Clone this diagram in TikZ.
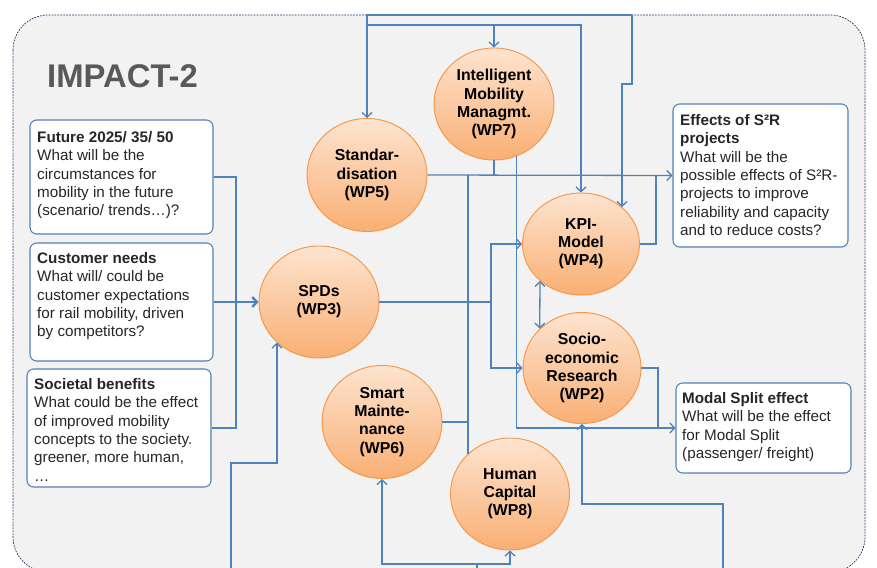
\documentclass[tikz,border=0pt]{standalone}
\usepackage{fontspec}
\setmainfont{Liberation Sans}
\usetikzlibrary{shapes.geometric}
\usetikzlibrary{arrows.meta}
\usetikzlibrary{positioning}
\definecolor{linkblue}{HTML}{4F81BD}
\definecolor{wporange}{HTML}{F79646}
\definecolor{wptop}{HTML}{FDE4D0}
\definecolor{wpbottom}{HTML}{F9AF74}
\definecolor{panelgray}{HTML}{F2F2F2}
\definecolor{panelline}{HTML}{1F3864}
\definecolor{titlegray}{HTML}{595959}
\definecolor{textdark}{HTML}{262626}
\tikzstyle{wp}=[ellipse, draw=wporange, line width=0.8pt, top color=wptop, bottom color=wpbottom, align=center, inner sep=0pt, font=\bfseries\fontsize{13.5}{15.5}\selectfont]
\tikzstyle{question}=[draw=linkblue, line width=0.9pt, fill=white, rounded corners=0.2cm, inner sep=0pt]
\tikzstyle{qtext}=[anchor=north west, align=left, inner sep=0pt, text=textdark, font=\fontsize{13}{15.7}\selectfont]
\tikzstyle{link}=[draw=linkblue, line width=1.1pt, >={Straight Barb[length=4pt,width=8.5pt]}]
\tikzstyle{mainlink}=[link, line width=2pt]

\begin{document}
\begin{tikzpicture}[x=0.03cm, y=-0.03cm]
  \useasboundingbox (0,0) rectangle (877,568);
  \clip (0,0) rectangle (877,568);
  \fill[white] (0,0) rectangle (877,568);
  % panel
  \draw[panelline, line width=0.6pt, dash pattern=on 1.5pt off 1pt, fill=panelgray,
    rounded corners=1.05cm] (13,15) rectangle (865,572);
  \node[anchor=base west, inner sep=0pt, text=titlegray,
    font=\bfseries\fontsize{28}{30}\selectfont] (impact) at (47,88) {IMPACT-2};

  % work packages
  \node[wp, minimum width=3.6cm, minimum height=3.39cm] (wpfive) at (367,175) {Standar-\\disation\\(WP5)};
  \node[wp, minimum width=3.6cm, minimum height=3.36cm] (wpseven) at (494,104) {Intelligent\\Mobility\\Managmt.\\(WP7)};
  \node[wp, minimum width=3.51cm, minimum height=3.06cm] (wpfour) at (581,244) {KPI-\\Model\\(WP4)};
  \node[wp, minimum width=3.6cm, minimum height=3.36cm] (wpthree) at (319,302) {SPDs\\(WP3)};
  \node[wp, minimum width=3.54cm, minimum height=3.33cm] (wptwo) at (582,368) {Socio-\\economic\\Research\\(WP2)};
  \node[wp, minimum width=3.6cm, minimum height=3.39cm] (wpsix) at (382,422) {Smart\\Mainte-\\nance\\(WP6)};
  \node[wp, minimum width=3.57cm, minimum height=3.36cm] (wpeight) at (510,494) {Human\\Capital\\(WP8)};

  % questions
  \node[question, minimum width=5.49cm, minimum height=3.42cm] (future) at (121.5,177) {};
  \node[qtext] (futuretext) at (37,131) {\textbf{Future 2025/ 35/ 50}\\What will be the\\circumstances for\\mobility in the future\\(scenario/ trends…)?};
  \node[question, minimum width=5.49cm, minimum height=3.54cm] (customer) at (121.5,302) {};
  \node[qtext] (customertext) at (37,252) {\textbf{Customer needs}\\What will/ could be\\customer expectations\\for rail mobility, driven\\by competitors?};
  \node[question, minimum width=5.52cm, minimum height=3.54cm] (societal) at (119,428) {};
  \node[qtext] (societaltext) at (34,378) {\textbf{Societal benefits}\\What could be the effect\\of improved mobility\\concepts to the society.\\greener, more human,\\…};
  \node[question, minimum width=5.25cm, minimum height=4.29cm] (effects) at (760.5,175.5) {};
  \node[qtext] (effectstext) at (680,114) {\textbf{Effects of S²R}\\\textbf{projects}\\What will be the\\possible effects of S²R-\\projects to improve\\reliability and capacity\\and to reduce costs?};
  \node[question, minimum width=5.25cm, minimum height=2.7cm] (modal) at (763.5,428) {};
  \node[qtext] (modaltext) at (682,392) {\textbf{Modal Split effect}\\What will be the effect\\for Modal Split\\(passenger/ freight)};

  % free ends and joints
  \coordinate (topleft) at (367,15);
  \coordinate (topright) at (632,15);
  \coordinate (topbranch) at (367,25);
  \coordinate (stepkpi) at (632,84);
  \coordinate (effectsjoin) at (656,175.5);
  \coordinate (stdjoin) at (468,175);
  \coordinate (modaljoin) at (658,428);
  \coordinate (spdsjoin) at (491,302);
  \coordinate (busjoin) at (236,302);
  \coordinate (botleft) at (231,568);
  \coordinate (spdsstep) at (231,463);
  \coordinate (botmid) at (477,568);
  \coordinate (capjoin) at (477,564);
  \coordinate (botright) at (723,568);
  \coordinate (socstep) at (723,504);

  % connectors
  \draw[link, ->] (topright) -- (topleft) -- (wpfive.north);
  \draw[link, ->] (topright) -- (stepkpi) -- (wpfour.42 |- stepkpi) -- (wpfour.42);
  \draw[link, ->] (topbranch) -| (wpfour.north);
  \draw[link, ->] (topbranch -| wpseven.north) -- (wpseven.north);
  \draw[link, ->] (wpfive.east) -- (effects.west);
  \draw[link] (wpseven.south) |- (effects.west);
  \draw[link] (wpfour.east) -| (effectsjoin);
  \draw[link] (stdjoin) -- (wpeight.136 -| stdjoin);
  \draw[link] (wpsix.east) -- (wpsix.east -| stdjoin);
  \draw[link, ->] (wpseven.-67) |- (modal.west);
  \draw[link] (wptwo.east) -| (modaljoin);
  \draw[link] (wpthree.east) -- (spdsjoin);
  \draw[link, ->] (spdsjoin) |- (wpfour.west);
  \draw[link, ->] (spdsjoin) |- (wptwo.west);
  \draw[link, <->] (wpfour.-138) -- (wptwo.137);
  \draw[link] (future.east) -| (busjoin);
  \draw[link] (societal.east) -| (busjoin);
  \draw[mainlink, ->] (customer.east) -- (wpthree.west);
  \draw[link, ->] (botleft) -- (spdsstep) -- (spdsstep -| wpthree.-136) -- (wpthree.-136);
  \draw[link, ->] (botmid) -- (capjoin) -| (wpsix.south);
  \draw[link, ->] (capjoin) -| (wpeight.south);
  \draw[link, ->] (botright) -- (socstep) -| (wptwo.south);
\end{tikzpicture}
\end{document}
